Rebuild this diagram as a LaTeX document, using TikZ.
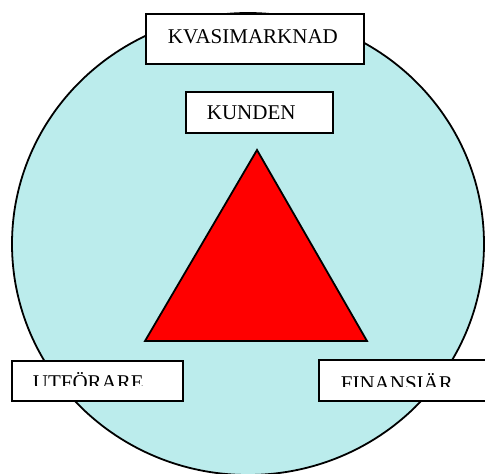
\documentclass[tikz,border=0pt]{standalone}
\usepackage{fontspec}
\setmainfont{Liberation Serif}
\definecolor{kvasicyan}{RGB}{187,236,236}
\begin{document}
\begin{tikzpicture}[x=1pt, y=-1pt, line width=1.8pt,
		every node/.style={font=\fontsize{21}{25}\selectfont},
		ruta/.style={draw, fill=white, rectangle, anchor=north west, inner sep=0pt},
		rutatext/.style={anchor=base west, inner sep=0pt}]
	\useasboundingbox (0,0) rectangle (485,474);
	
	% 1. cirkeln (kvasimarknaden)
	\draw[fill=kvasicyan] (248,244) ellipse [x radius=236, y radius=231];
	
	% 2. triangeln
	\draw[fill=red, line join=miter] (257,150) -- (367,341) -- (145,341) -- cycle;
	
	% 3. rutor
	\node[ruta, minimum width=218pt, minimum height=50pt] (kvasi) at (145,13) {};
	\node[rutatext] (kvasitext) at (167,43) {KVASIMARKNAD};
	\node[ruta, minimum width=147pt, minimum height=41pt] (kunden) at (185,91) {};
	\node[rutatext] (kundentext) at (206,119) {KUNDEN};
	\node[ruta, minimum width=171pt, minimum height=40pt] (utforare) at (11,360) {};
	\node[ruta, minimum width=190pt, minimum height=41pt] (finansiar) at (318,359) {};
	
	% 4. texten i de nedre rutorna (avklippt)
	\begin{scope}
		\clip (11,360) rectangle (182,385) (318,359) rectangle (485,386);
		\node[rutatext] (utforaretext) at (32,389) {UTFÖRARE};
		\node[rutatext] (finansiartext) at (340,390) {FINANSIÄR};
	\end{scope}
\end{tikzpicture}
\end{document}
